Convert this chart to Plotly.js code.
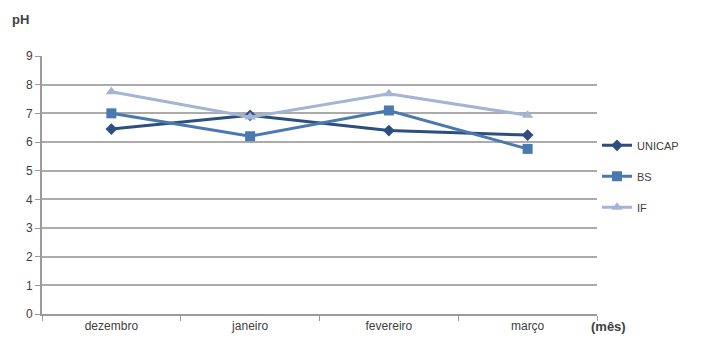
<!DOCTYPE html>
<html><head><meta charset="utf-8">
<script src="https://cdn.plot.ly/plotly-3.0.1.min.js"></script>
<style>body{margin:0;background:#fff}#c{width:701px;height:349px}</style>
</head><body><div id="c"></div>
<script>
const months = ["dezembro", "janeiro", "fevereiro", "março"];
const unicap = [6.45, 6.93, 6.4, 6.24];
const bs = [7.0, 6.2, 7.1, 5.76];
const ifv = [7.75, 6.87, 7.68, 6.93];
const yTicks = [0,1,2,3,4,5,6,7,8,9];

const traces = [
  {x: months, y: unicap, name: "UNICAP", legendgroup: "a", mode: "lines+markers",
   line: {color: "#2D4E7E", width: 3}, marker: {symbol: "diamond", size: 9, color: "#2D4E7E"}},
  {x: months, y: bs, name: "BS", legendgroup: "b", mode: "lines+markers",
   line: {color: "#4A78B0", width: 3}, marker: {symbol: "square", size: 10, color: "#4A78B0"}},
  {x: months, y: ifv, name: "IF", legendgroup: "c", mode: "lines+markers",
   line: {color: "#A3B5D3", width: 3}, marker: {symbol: "triangle-up", size: 10, color: "#A3B5D3"}}
];

const layout = {
  width: 701, height: 349,
  margin: {l: 42, r: 104, t: 56, b: 35},
  paper_bgcolor: "#fff", plot_bgcolor: "#fff",
  font: {family: "Liberation Sans, Arial, sans-serif", size: 12, color: "#404040"},
  showlegend: true,
  legend: {x: 1.0, xanchor: "left", y: 0.71, yanchor: "top", tracegroupgap: 12,
           font: {size: 11, color: "#404040"}, bgcolor: "rgba(0,0,0,0)"},
  xaxis: {type: "category", tickson: "boundaries", ticks: "outside", ticklen: 5,
          tickcolor: "#9a9a9a", showgrid: false, showline: true, linecolor: "#9a9a9a",
          linewidth: 2, zeroline: false, tickfont: {size: 12, color: "#404040"},
          range: [-0.5, 3.5]},
  yaxis: {range: [0, 9], tickvals: yTicks, ticks: "outside", ticklen: 5, tickcolor: "#9a9a9a",
          showgrid: true, gridcolor: "#ababab", gridwidth: 2, showline: true, linecolor: "#9a9a9a",
          linewidth: 2, zeroline: false, tickfont: {size: 12, color: "#404040"}},
  annotations: [
    {text: "<b>pH</b>", xref: "paper", yref: "paper", x: -0.058, y: 1.14, xanchor: "left",
     yanchor: "middle", showarrow: false, font: {size: 13, color: "#404040"}},
    {text: "<b>(mês)</b>", xref: "paper", yref: "paper", x: 0.985, y: -0.05, xanchor: "left",
     yanchor: "middle", showarrow: false, font: {size: 13, color: "#404040"}}
  ]
};
Plotly.newPlot("c", traces, layout, {displayModeBar: false, staticPlot: true});
</script></body></html>
